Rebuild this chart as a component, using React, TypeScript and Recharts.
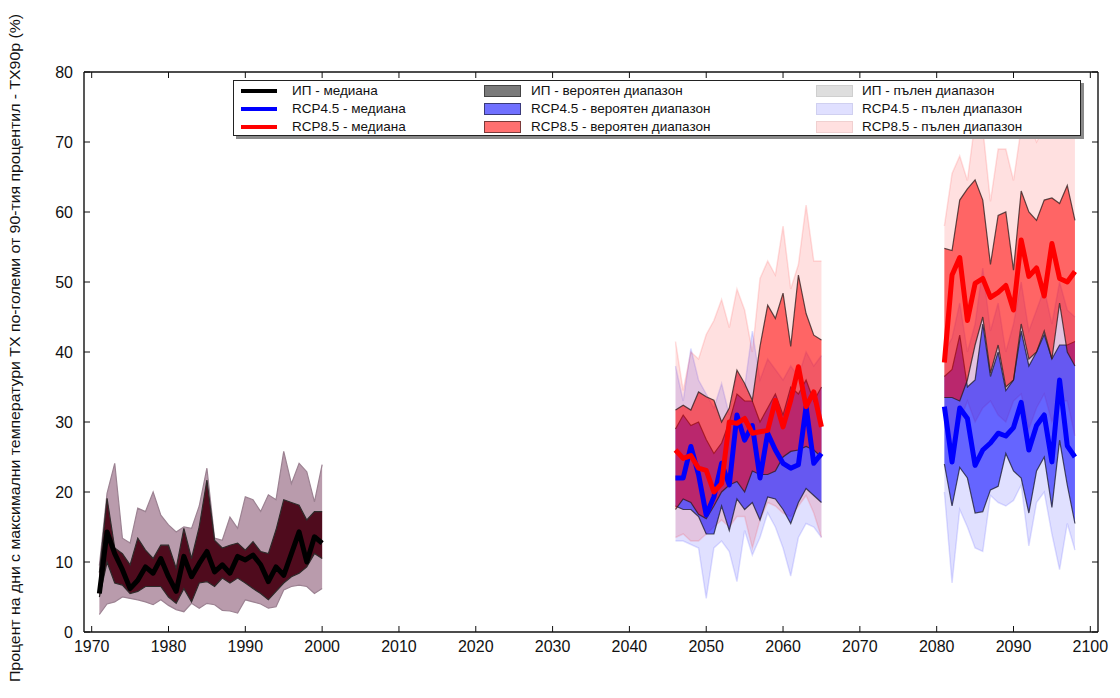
import React from "react";
import { ComposedChart, Area, Line, XAxis, YAxis, Legend } from "recharts";

// ---------- DATA ----------
const histYears = [1971, 1972, 1973, 1974, 1975, 1976, 1977, 1978, 1979, 1980, 1981, 1982, 1983, 1984, 1985, 1986, 1987, 1988, 1989, 1990, 1991, 1992, 1993, 1994, 1995, 1996, 1997, 1998, 1999, 2000];
const histMedian = [5.5, 14.3, 11.2, 8.9, 6.2, 7.4, 9.3, 8.4, 10.5, 7.9, 5.8, 10.8, 7.9, 9.8, 11.5, 8.6, 9.6, 8.4, 10.8, 10.3, 11.0, 9.6, 7.2, 9.3, 8.1, 11.2, 14.3, 10.0, 13.6, 12.7];
const histLikelyHigh = [8.5, 19.1, 12.0, 11.2, 9.6, 13.4, 11.7, 10.5, 12.4, 12.4, 9.1, 14.8, 10.5, 15.0, 21.7, 13.1, 12.0, 12.4, 12.7, 11.7, 12.9, 11.5, 11.2, 14.6, 18.9, 18.5, 18.1, 16.0, 17.2, 17.2];
const histLikelyLow = [5.0, 10.0, 7.0, 6.7, 5.5, 5.8, 6.5, 6.5, 6.5, 5.0, 4.1, 6.2, 4.3, 7.0, 7.2, 6.5, 7.7, 7.0, 7.7, 7.0, 6.2, 5.5, 4.6, 5.8, 7.0, 7.9, 8.4, 9.3, 11.2, 10.5];
const histFullHigh = [9.5, 19.8, 24.1, 13.4, 12.7, 17.7, 17.2, 20.0, 16.7, 15.3, 14.3, 15.0, 14.8, 18.0, 23.4, 13.4, 13.1, 16.4, 14.8, 19.3, 18.9, 17.2, 19.6, 18.9, 25.8, 21.2, 24.1, 22.9, 18.6, 23.9];
const histFullLow = [2.5, 4.0, 4.3, 5.0, 4.8, 4.6, 4.3, 3.9, 4.6, 3.8, 3.2, 2.9, 4.1, 3.4, 4.1, 3.9, 3.1, 3.0, 2.7, 4.6, 4.3, 4.0, 3.4, 3.6, 6.0, 6.5, 6.7, 6.5, 5.5, 6.2];

const midYears = [2046, 2047, 2048, 2049, 2050, 2051, 2052, 2053, 2054, 2055, 2056, 2057, 2058, 2059, 2060, 2061, 2062, 2063, 2064, 2065];
const rcp45MidMedian = [22.0, 22.0, 26.5, 22.5, 16.7, 19.3, 24.1, 21.0, 31.0, 27.4, 29.5, 22.0, 28.4, 26.0, 24.1, 23.4, 23.9, 32.2, 24.1, 25.5];
const rcp45MidLikelyHigh = [29.0, 31.0, 29.5, 30.0, 27.5, 25.5, 27.0, 30.0, 34.0, 33.0, 33.0, 30.0, 32.0, 34.0, 31.0, 35.0, 34.0, 36.0, 33.0, 35.0];
const rcp45MidLikelyLow = [18.0, 17.5, 17.5, 16.5, 14.0, 14.0, 18.0, 14.5, 19.0, 17.5, 18.5, 16.0, 19.3, 19.0, 17.5, 15.5, 18.5, 20.5, 19.5, 18.5];
const rcp45MidFullHigh = [38.0, 33.0, 40.5, 36.0, 34.0, 32.0, 35.5, 31.0, 37.0, 35.0, 43.0, 36.0, 39.0, 37.5, 36.0, 38.0, 36.5, 40.0, 38.0, 39.5];
const rcp45MidFullLow = [13.0, 13.0, 12.5, 12.0, 4.8, 12.0, 13.0, 11.5, 7.2, 14.5, 11.0, 13.5, 17.0, 15.0, 12.0, 8.0, 13.5, 15.5, 15.0, 13.5];
const rcp85MidMedian = [26.0, 24.8, 25.2, 23.4, 23.1, 20.0, 21.2, 30.0, 29.8, 30.5, 28.4, 28.6, 28.8, 33.1, 29.3, 33.1, 37.9, 32.2, 34.3, 29.3];
const rcp85MidLikelyHigh = [31.7, 32.4, 31.7, 34.3, 33.6, 33.1, 30.0, 32.0, 37.4, 35.5, 33.1, 40.8, 46.7, 44.8, 48.4, 40.8, 51.0, 45.5, 42.4, 41.7];
const rcp85MidLikelyLow = [17.5, 19.0, 18.5, 16.8, 16.2, 18.0, 20.0, 21.0, 21.5, 20.0, 23.0, 22.5, 22.5, 23.0, 25.0, 25.8, 26.0, 26.5, 26.0, 25.0];
const rcp85MidFullHigh = [41.5, 34.5, 40.0, 39.0, 42.5, 44.5, 47.5, 43.5, 49.0, 46.0, 40.0, 50.5, 53.0, 51.0, 58.0, 49.0, 52.5, 61.0, 53.0, 53.0];
const rcp85MidFullLow = [13.5, 14.0, 13.0, 13.0, 14.0, 15.0, 16.0, 15.0, 16.5, 16.5, 12.0, 16.0, 18.5, 18.0, 17.0, 16.5, 18.0, 19.5, 17.0, 13.5];

const lateYears = [2081, 2082, 2083, 2084, 2085, 2086, 2087, 2088, 2089, 2090, 2091, 2092, 2093, 2094, 2095, 2096, 2097, 2098];
const rcp45LateMedian = [32.2, 24.3, 32.0, 30.5, 23.8, 26.0, 27.0, 28.4, 28.0, 29.2, 32.8, 26.0, 29.5, 31.0, 24.3, 36.0, 26.6, 25.0];
const rcp45LateLikelyHigh = [36.5, 37.5, 42.4, 35.0, 36.0, 44.0, 36.5, 40.0, 34.5, 36.0, 43.0, 38.0, 40.0, 42.5, 39.0, 41.0, 41.0, 41.5];
const rcp45LateLikelyLow = [24.0, 18.0, 23.5, 22.0, 17.0, 17.2, 20.3, 20.8, 25.5, 23.0, 22.0, 17.0, 23.0, 25.0, 17.8, 27.4, 21.0, 15.5];
const rcp45LateFullHigh = [40.0, 42.0, 47.0, 40.0, 44.0, 52.0, 43.0, 47.0, 40.0, 44.0, 50.0, 43.0, 46.0, 49.0, 44.0, 50.0, 46.0, 45.0];
const rcp45LateFullLow = [20.0, 7.0, 17.5, 15.0, 12.0, 11.5, 19.5, 18.5, 18.0, 18.8, 21.0, 12.3, 18.5, 20.0, 14.0, 8.9, 15.5, 11.7];
const rcp85LateMedian = [38.5, 51.0, 53.5, 44.5, 49.8, 50.5, 47.8, 48.5, 49.5, 46.0, 56.0, 50.8, 52.0, 48.0, 55.5, 50.5, 50.0, 51.5];
const rcp85LateLikelyHigh = [54.8, 54.5, 61.7, 63.3, 64.6, 61.7, 52.5, 59.5, 60.0, 51.7, 63.0, 60.0, 58.8, 61.7, 62.0, 61.2, 63.8, 58.8];
const rcp85LateLikelyLow = [33.5, 33.5, 33.0, 36.0, 41.0, 45.0, 37.0, 41.0, 35.0, 36.0, 44.0, 39.0, 40.0, 43.0, 39.0, 47.0, 40.0, 38.0];
const rcp85LateFullHigh = [58.0, 65.5, 68.0, 64.5, 73.0, 72.0, 61.5, 69.0, 69.0, 64.5, 72.0, 73.0, 70.0, 72.0, 74.0, 71.0, 73.0, 71.0];
const rcp85LateFullLow = [30.0, 24.0, 30.0, 33.0, 30.0, 32.0, 33.0, 31.0, 30.0, 33.0, 34.0, 29.0, 32.0, 34.0, 30.0, 33.0, 33.0, 28.0];

const gapYear = 2073; // empty row that separates the two future periods
const xTicks = [1970, 1980, 1990, 2000, 2010, 2020, 2030, 2040, 2050, 2060, 2070, 2080, 2090, 2100];
const yTicks = [0, 10, 20, 30, 40, 50, 60, 70, 80];
const yLabel = "Процент на дни с максимални температури TX по-големи от 90-тия процентил - TX90p (%)";

const legendRows = [
  ["ИП - медиана", "ИП - вероятен диапазон", "ИП - пълен диапазон"],
  ["RCP4.5 - медиана", "RCP4.5 - вероятен диапазон", "RCP4.5 - пълен диапазон"],
  ["RCP8.5 - медиана", "RCP8.5 - вероятен диапазон", "RCP8.5 - пълен диапазон"],
];

// ---------- TABLE ----------
const rows: any[] = [];
histYears.forEach((y, i) =>
  rows.push({
    year: y,
    hMed: histMedian[i],
    hLik: [histLikelyLow[i], histLikelyHigh[i]],
    hFull: [histFullLow[i], histFullHigh[i]],
  })
);
const pushFuture = (
  years: number[], m45: number[], l45: number[], h45: number[], fl45: number[], fh45: number[],
  m85: number[], l85: number[], h85: number[], fl85: number[], fh85: number[]
) => {
  years.forEach((y, i) =>
    rows.push({
      year: y,
      bMed: m45[i],
      bLik: [l45[i], h45[i]],
      bFull: [fl45[i], fh45[i]],
      rMed: m85[i],
      rLik: [l85[i], h85[i]],
      rFull: [fl85[i], fh85[i]],
    })
  );
};
pushFuture(midYears, rcp45MidMedian, rcp45MidLikelyLow, rcp45MidLikelyHigh, rcp45MidFullLow, rcp45MidFullHigh,
  rcp85MidMedian, rcp85MidLikelyLow, rcp85MidLikelyHigh, rcp85MidFullLow, rcp85MidFullHigh);
rows.push({ year: gapYear });
pushFuture(lateYears, rcp45LateMedian, rcp45LateLikelyLow, rcp45LateLikelyHigh, rcp45LateFullLow, rcp45LateFullHigh,
  rcp85LateMedian, rcp85LateLikelyLow, rcp85LateLikelyHigh, rcp85LateFullLow, rcp85LateFullHigh);

// ---------- STYLE ----------
const FONT = "'Liberation Sans', Arial, Helvetica, sans-serif";
const TICK_LEN = 6;
const FRAME = "#111";

const BottomTick = (props: any) => {
  const { x, y, payload } = props;
  const M = 8;
  return (
    <g>
      <line x1={x} x2={x} y1={y - M} y2={y - M - TICK_LEN} stroke={FRAME} strokeWidth={1} />
      <text x={x} y={y} dy="0.78em" textAnchor="middle" fontSize={16} fill="#111" fontFamily={FONT}>
        {payload.value}
      </text>
    </g>
  );
};
const LeftTick = (props: any) => {
  const { x, y, payload } = props;
  const M = 11;
  return (
    <g>
      <line x1={x + M} x2={x + M + TICK_LEN} y1={y} y2={y} stroke={FRAME} strokeWidth={1} />
      <text x={x} y={y} dy="0.36em" textAnchor="end" fontSize={16} fill="#111" fontFamily={FONT}>
        {payload.value}
      </text>
    </g>
  );
};
const TopTick = (props: any) => {
  const { x, y } = props;
  return <line x1={x} x2={x} y1={y} y2={y + TICK_LEN} stroke={FRAME} strokeWidth={1} />;
};
const RightTick = (props: any) => {
  const { x, y } = props;
  return <line x1={x} x2={x - TICK_LEN} y1={y} y2={y} stroke={FRAME} strokeWidth={1} />;
};

const YLabel = () => (
  <text
    x={0}
    y={0}
    transform="translate(20 348) rotate(-90)"
    textAnchor="middle"
    fontSize={15.5}
    fill="#111"
    fontFamily="'Liberation Sans Narrow', 'Liberation Sans', Arial, sans-serif"
    textLength={668}
    lengthAdjust="spacingAndGlyphs"
  >
    {yLabel}
  </text>
);

const lineSw = ["#000000", "#0000ff", "#ff0000"];
const likelySw = [
  { bg: "#7a7a7a", bd: "#444" },
  { bg: "#7070ff", bd: "#3a3a7a" },
  { bg: "#ff7070", bd: "#7a3a3a" },
];
const fullSw = [
  { bg: "#dedede", bd: "#cfcfcf" },
  { bg: "#e0e0ff", bd: "#d0d0f0" },
  { bg: "#ffe0e0", bd: "#f0d0d0" },
];

const LegendBox = () => {
  const rowY = [10, 28, 46];
  const txt: React.CSSProperties = {
    position: "absolute",
    fontFamily: FONT,
    fontSize: 13.5,
    color: "#111",
    whiteSpace: "nowrap",
    lineHeight: "16px",
  };
  return (
    <div
      style={{
        position: "relative",
        width: 848,
        height: 56,
        background: "#fff",
        border: "1px solid #222",
        boxShadow: "3px 3px 0 #8a8a8a",
        boxSizing: "border-box",
      }}
    >
      {legendRows.map((r, i) => (
        <React.Fragment key={i}>
          <div style={{ position: "absolute", left: 7, top: rowY[i] - 2, width: 36, height: 4, background: lineSw[i] }} />
          <div style={{ ...txt, left: 58, top: rowY[i] - 8 }}>{r[0]}</div>
          <div
            style={{
              position: "absolute", left: 250, top: rowY[i] - 6, width: 37, height: 12,
              background: likelySw[i].bg, border: `1px solid ${likelySw[i].bd}`, boxSizing: "border-box",
            }}
          />
          <div style={{ ...txt, left: 297, top: rowY[i] - 8 }}>{r[1]}</div>
          <div
            style={{
              position: "absolute", left: 582, top: rowY[i] - 6, width: 37, height: 12,
              background: fullSw[i].bg, border: `1px solid ${fullSw[i].bd}`, boxSizing: "border-box",
            }}
          />
          <div style={{ ...txt, left: 628, top: rowY[i] - 8 }}>{r[2]}</div>
        </React.Fragment>
      ))}
    </div>
  );
};

export default function App() {
  return (
    <div style={{ position: "absolute", left: 0, top: 0, width: 1120, height: 698, background: "#fff" }}>
      <ComposedChart
        width={1120}
        height={698}
        data={rows}
        margin={{ top: 71, right: 21, bottom: 36, left: 0 }}
      >
        <XAxis
          dataKey="year"
          type="number"
          domain={[1969, 2101]}
          ticks={xTicks}
          interval={0}
          height={30}
          tickSize={0}
          tickMargin={8}
          tickLine={false}
          axisLine={{ stroke: FRAME, strokeWidth: 1.4 }}
          tick={<BottomTick />}
          allowDataOverflow
        />
        <XAxis
          xAxisId="top"
          orientation="top"
          dataKey="year"
          type="number"
          domain={[1969, 2101]}
          ticks={xTicks}
          interval={0}
          height={1}
          tickSize={0}
          tickMargin={0}
          tickLine={false}
          axisLine={{ stroke: FRAME, strokeWidth: 1.4 }}
          tick={<TopTick />}
          allowDataOverflow
        />
        <YAxis
          type="number"
          domain={[0, 80]}
          ticks={yTicks}
          interval={0}
          width={84}
          tickSize={0}
          tickMargin={11}
          tickLine={false}
          axisLine={{ stroke: FRAME, strokeWidth: 1.4 }}
          tick={<LeftTick />}
          label={<YLabel />}
          allowDataOverflow
        />
        <YAxis
          yAxisId="right"
          orientation="right"
          type="number"
          domain={[0, 80]}
          ticks={yTicks}
          interval={0}
          width={1}
          tickSize={0}
          tickMargin={0}
          tickLine={false}
          axisLine={{ stroke: FRAME, strokeWidth: 1.4 }}
          tick={<RightTick />}
          allowDataOverflow
        />
        <Legend
          layout="horizontal"
          verticalAlign="middle"
          align="center"
          wrapperStyle={{ left: 233, top: 80, width: 848, height: 56 }}
          content={<LegendBox />}
        />

        {/* historical */}
        <Area dataKey="hFull" type="linear" fill="#b99bac" fillOpacity={1} stroke="#9c8292" strokeWidth={1.2} isAnimationActive={false} dot={false} activeDot={false} />
        <Area dataKey="hLik" type="linear" fill="#4f0b1d" fillOpacity={1} stroke="#2e2a2a" strokeWidth={1.2} isAnimationActive={false} dot={false} activeDot={false} />
        <Line dataKey="hMed" type="linear" stroke="#000" strokeWidth={5} strokeLinejoin="round" dot={false} activeDot={false} isAnimationActive={false} />

        {/* future full ranges */}
        <Area dataKey="bFull" type="linear" fill="#0000ff" fillOpacity={0.12} stroke="#0000ff" strokeOpacity={0.12} strokeWidth={1.5} isAnimationActive={false} dot={false} activeDot={false} />
        <Area dataKey="rFull" type="linear" fill="#ff0000" fillOpacity={0.12} stroke="#ff0000" strokeOpacity={0.12} strokeWidth={1.5} isAnimationActive={false} dot={false} activeDot={false} />
        {/* future likely ranges */}
        <Area dataKey="bLik" type="linear" fill="#0000ff" fillOpacity={0.55} stroke="#1a1a2a" strokeOpacity={0.75} strokeWidth={1.2} isAnimationActive={false} dot={false} activeDot={false} />
        <Area dataKey="rLik" type="linear" fill="#ff0000" fillOpacity={0.55} stroke="#2a1a1a" strokeOpacity={0.75} strokeWidth={1.2} isAnimationActive={false} dot={false} activeDot={false} />
        {/* medians */}
        <Line dataKey="bMed" type="linear" stroke="#0000ff" strokeWidth={5} strokeLinejoin="round" dot={false} activeDot={false} isAnimationActive={false} />
        <Line dataKey="rMed" type="linear" stroke="#ff0000" strokeWidth={5} strokeLinejoin="round" dot={false} activeDot={false} isAnimationActive={false} />
      </ComposedChart>
    </div>
  );
}
